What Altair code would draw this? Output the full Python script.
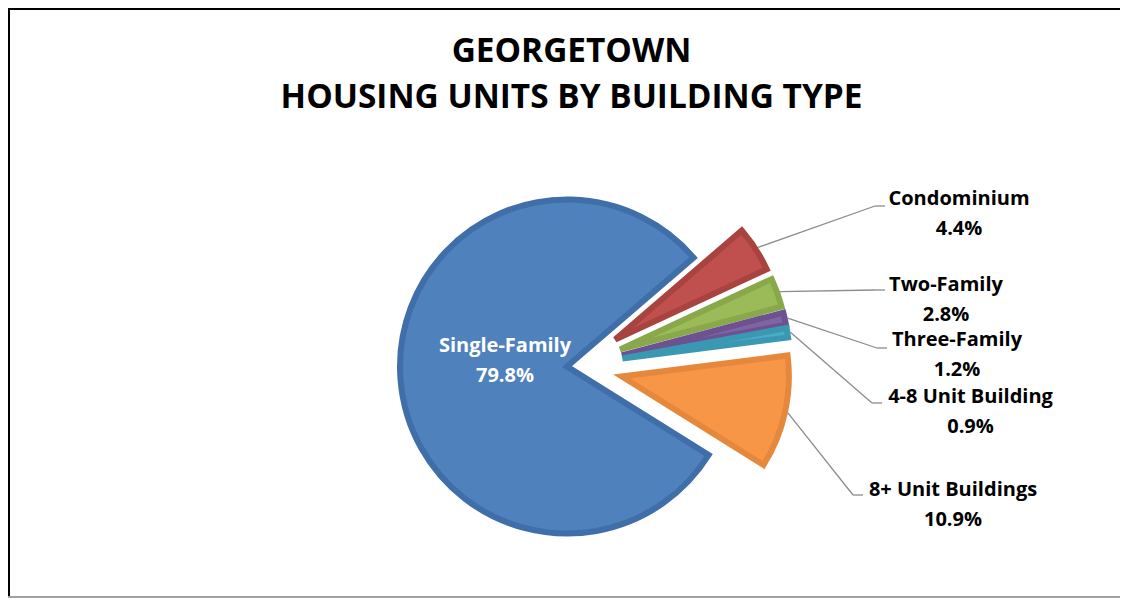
import altair as alt
import pandas as pd

# ---- data ----
categories = ["Single-Family", "Condominium", "Two-Family", "Three-Family",
              "4-8 Unit Building", "8+ Unit Buildings"]
shares = [79.8, 4.4, 2.8, 1.2, 0.9, 10.9]
pct_labels = ["79.8%", "4.4%", "2.8%", "1.2%", "0.9%", "10.9%"]

# ---- styles ----
fill_colors = ["#4F81BD", "#C0504D", "#9BBB59", "#8064A2", "#4BACC6", "#F79646"]
edge_colors = ["#3F6EA9", "#A8433F", "#88A84A", "#6C5290", "#3B98B2", "#E6883C"]
label_colors = ["#FFFFFF", "#000000", "#000000", "#000000", "#000000", "#000000"]
explode = [7, 49, 49, 49, 49, 49]   # per-slice explosion (px)
FONT = "Open Sans"

# ---- layout (chart pixel space) ----
W, H = 1112, 590
CX, CY = 566, 358          # pie centre
R = 167                    # radius (stroke adds ~3px)
ROT_DEG = 122.0            # angle where first slice starts (clockwise from 12 o'clock)
label_x = [497, 951, 938, 949, 962.5, 945]
label_y = [338, 191, 277, 332, 389, 482]
elbow_x = [0, 867, 867, 869, 864, 845]
elbow_y = [0, 198, 282, 340, 395, 487]
TAIL = 10
LINE_GAP = 30

df = pd.DataFrame({
    "category": categories,
    "share": shares,
    "pct": pct_labels,
    "order": list(range(len(categories))),
    "fill": fill_colors,
    "edge": edge_colors,
    "lcol": label_colors,
    "exp": explode,
    "lx": label_x,
    "ly": label_y,
    "ex": elbow_x,
    "ey": elbow_y,
})

base = alt.Chart(df).transform_window(
    cum="sum(share)", sort=[alt.SortField("order")], frame=[None, 0]
).transform_joinaggregate(
    total="sum(share)"
).transform_calculate(
    a0=f"{ROT_DEG}*PI/180 + 2*PI*(datum.cum - datum.share)/datum.total",
    a1=f"{ROT_DEG}*PI/180 + 2*PI*datum.cum/datum.total",
).transform_calculate(
    mid="(datum.a0 + datum.a1)/2"
).transform_calculate(
    cx=f"{CX} + datum.exp*sin(datum.mid)",
    cy=f"{CY} - datum.exp*cos(datum.mid)",
    sx=f"{CX} + (datum.exp + {R + 3})*sin(datum.mid)",
    sy=f"{CY} - (datum.exp + {R + 3})*cos(datum.mid)",
    tx=f"datum.ex + {TAIL}",
    ly2=f"datum.ly + {LINE_GAP}",
)

X = lambda f: alt.X(f"{f}:Q", scale=None, axis=None)
Y = lambda f: alt.Y(f"{f}:Q", scale=None, axis=None)

slices = base.mark_arc(outerRadius=R, strokeWidth=6, strokeJoin="miter").encode(
    x=X("cx"), y=Y("cy"),
    theta=alt.Theta("a0:Q", scale=None),
    theta2="a1:Q",
    fill=alt.Fill("fill:N", scale=None),
    stroke=alt.Stroke("edge:N", scale=None),
)

outside = base.transform_filter("datum.order > 0")

lead1 = outside.mark_rule(color="#8C8C8C", strokeWidth=1.3).encode(
    x=X("sx"), y=Y("sy"), x2="ex:Q", y2="ey:Q"
)
lead2 = outside.mark_rule(color="#8C8C8C", strokeWidth=1.3).encode(
    x=X("ex"), y=Y("ey"), x2="tx:Q"
)

names = base.mark_text(font=FONT, fontWeight="bold", fontSize=20, align="center",
                       baseline="middle").encode(
    x=X("lx"), y=Y("ly"), text="category:N", color=alt.Color("lcol:N", scale=None)
)
pcts = base.mark_text(font=FONT, fontWeight="bold", fontSize=20, align="center",
                      baseline="middle").encode(
    x=X("lx"), y=Y("ly2"), text="pct:N", color=alt.Color("lcol:N", scale=None)
)

title_df = pd.DataFrame({"t": ["GEORGETOWN", "HOUSING UNITS BY BUILDING TYPE"], "i": [0, 1]})
title = alt.Chart(title_df).transform_calculate(
    ty="44 + 46*datum.i", tx="563.5"
).mark_text(font=FONT, fontWeight="bold", fontSize=33.4, align="center",
            baseline="middle", color="#000000").encode(
    x=X("tx"), y=Y("ty"), text="t:N"
)

frame_top = alt.Chart(title_df).mark_rule(color="#000000", strokeWidth=3).encode(
    x=alt.value(0), x2=alt.value(W), y=alt.value(0.5)
)
frame_left = alt.Chart(title_df).mark_rule(color="#000000", strokeWidth=3).encode(
    x=alt.value(0.5), y=alt.value(0), y2=alt.value(H)
)
frame_bottom = alt.Chart(title_df).mark_rule(color="#A0A0A0", strokeWidth=2).encode(
    x=alt.value(0), x2=alt.value(W), y=alt.value(H - 1)
)

chart = alt.layer(
    slices, lead1, lead2, names, pcts, title, frame_top, frame_left, frame_bottom
).properties(
    width=W, height=H, autosize=alt.AutoSizeParams(type="none"), padding=0
).configure(
    background="#FFFFFF",
    view=alt.ViewConfig(stroke="transparent", strokeWidth=0),
)

chart.save("out.html", embed_options={"renderer": "svg", "actions": False})
